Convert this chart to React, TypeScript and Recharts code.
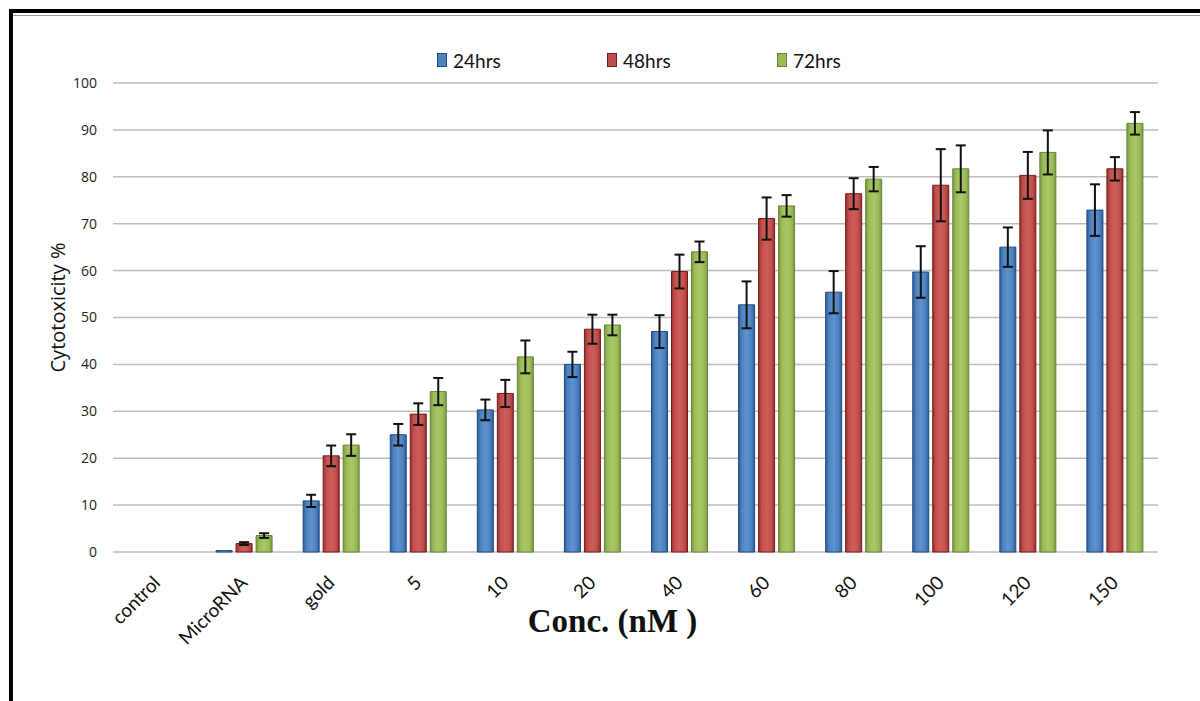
import React from "react";
import {
  BarChart,
  Bar,
  XAxis,
  YAxis,
  CartesianGrid,
  Legend,
  ErrorBar,
} from "recharts";

// concentrations / treatments along the x axis
const categories = ["control", "MicroRNA", "gold", "5", "10", "20", "40", "60", "80", "100", "120", "150"];

// cytotoxicity % per time point
const h24 = [0, 0.3, 10.9, 25, 30.3, 40, 47, 52.7, 55.4, 59.7, 65, 72.9];
const h48 = [0, 1.8, 20.5, 29.4, 33.8, 47.5, 59.8, 71.1, 76.4, 78.2, 80.3, 81.7];
const h72 = [0, 3.5, 22.8, 34.2, 41.6, 48.4, 64, 73.8, 79.5, 81.7, 85.2, 91.4];

// error bars (+/-)
const e24 = [0, 0, 1.3, 2.3, 2.2, 2.7, 3.5, 5, 4.5, 5.5, 4.2, 5.5];
const e48 = [0, 0.3, 2.2, 2.3, 2.9, 3.1, 3.6, 4.5, 3.3, 7.7, 5, 2.5];
const e72 = [0, 0.5, 2.3, 2.9, 3.5, 2.2, 2.2, 2.3, 2.6, 5, 4.7, 2.4];

const yTicks = [0, 10, 20, 30, 40, 50, 60, 70, 80, 90, 100];

const data = categories.map((name, i) => ({
  name,
  h24: h24[i],
  h48: h48[i],
  h72: h72[i],
  e24: e24[i],
  e48: e48[i],
  e72: e72[i],
}));

const series = [
  { key: "h24", err: "e24", label: "24hrs", base: "#4F81BD", light: "#5E92D2", dark: "#2F5E99", stroke: "#1F4A80" },
  { key: "h48", err: "e48", label: "48hrs", base: "#C0504D", light: "#CF5E5A", dark: "#96302D", stroke: "#7A1A18" },
  { key: "h72", err: "e72", label: "72hrs", base: "#9BBB59", light: "#A8C966", dark: "#7A9642", stroke: "#6A8535" },
];

const sans = "'Open Sans', 'DejaVu Sans', sans-serif";

const XTick = (props: any) => {
  const { x, y, payload } = props;
  const tx = x + 5;
  const ty = y + 24;
  return (
    <text
      x={tx}
      y={ty}
      textAnchor="end"
      transform={`rotate(-45, ${tx}, ${ty})`}
      fontFamily="Lato, 'Open Sans', sans-serif"
      fontSize={19}
      fill="#111"
    >
      {payload.value}
    </text>
  );
};

const LegendBox = () => (
  <div style={{ display: "flex", paddingLeft: 437, height: 24, alignItems: "center" }}>
    {series.map((s) => (
      <div key={s.key} style={{ display: "flex", alignItems: "center", width: 170 }}>
        <span
          style={{
            display: "inline-block",
            width: 8,
            height: 12,
            background: s.base,
            border: `1px solid ${s.stroke}`,
            marginRight: 6,
          }}
        />
        <span style={{ fontFamily: "Lato, sans-serif", fontSize: 19, color: "#111" }}>{s.label}</span>
      </div>
    ))}
  </div>
);

export default function App() {
  return (
    <div style={{ position: "absolute", left: 0, top: 0, width: 1200, height: 701, background: "#fff" }}>
      <div style={{ position: "absolute", left: 9, top: 9, width: 1191, height: 4, background: "#000" }} />
      <div style={{ position: "absolute", left: 13, top: 15, width: 1187, height: 1, background: "#9a9a9a" }} />
      <div style={{ position: "absolute", left: 9, top: 9, width: 4, height: 692, background: "#000" }} />
      <BarChart
        width={1200}
        height={701}
        data={data}
        margin={{ top: 83, right: 42, bottom: 49, left: 40 }}
        barSize={16}
        barGap={4}
      >
        <defs>
          {series.map((s) => (
            <linearGradient key={s.key} id={`grad-${s.key}`} x1="0" y1="0" x2="1" y2="0">
              <stop offset="0%" stopColor={s.dark} />
              <stop offset="20%" stopColor={s.base} />
              <stop offset="50%" stopColor={s.light} />
              <stop offset="80%" stopColor={s.base} />
              <stop offset="100%" stopColor={s.dark} />
            </linearGradient>
          ))}
        </defs>
        <CartesianGrid vertical={false} stroke="#BDBDBD" strokeWidth={1.5} />
        <XAxis
          dataKey="name"
          axisLine={false}
          tickLine={false}
          height={100}
          interval={0}
          tick={<XTick />}
          label={{
            content: (p: any) => {
              const vb = p.viewBox;
              return (
                <text
                  x={vb.x + vb.width / 2 - 23}
                  y={vb.y + 80}
                  textAnchor="middle"
                  fontFamily="'Liberation Serif', 'Times New Roman', serif"
                  fontWeight="bold"
                  fontSize={33}
                  fill="#111"
                >
                  Conc. (nM )
                </text>
              );
            },
          }}
        />
        <YAxis
          domain={[0, 100]}
          ticks={yTicks}
          axisLine={false}
          tickLine={false}
          tickMargin={10}
          width={73}
          tick={{ fontFamily: sans, fontSize: 14, fill: "#222" }}
          label={{
            content: (p: any) => {
              const vb = p.viewBox;
              const cx = 57;
              const cy = vb.y + vb.height / 2 - 10;
              return (
                <text
                  x={cx}
                  y={cy}
                  textAnchor="middle"
                  dominantBaseline="central"
                  transform={`rotate(-90, ${cx}, ${cy})`}
                  fontFamily={sans}
                  fontSize={20}
                  fill="#111"
                >
                  Cytotoxicity %
                </text>
              );
            },
          }}
        />
        <Legend
          verticalAlign="middle"
          align="center"
          content={() => <LegendBox />}
          wrapperStyle={{ top: 48, left: 0, width: 1200 }}
        />
        {series.map((s) => (
          <Bar
            key={s.key}
            dataKey={s.key}
            name={s.label}
            fill={`url(#grad-${s.key})`}
            stroke={s.stroke}
            strokeWidth={1}
            isAnimationActive={false}
          >
            <ErrorBar dataKey={s.err} width={5} stroke="#111" strokeWidth={2} direction="y" />
          </Bar>
        ))}
      </BarChart>
    </div>
  );
}
